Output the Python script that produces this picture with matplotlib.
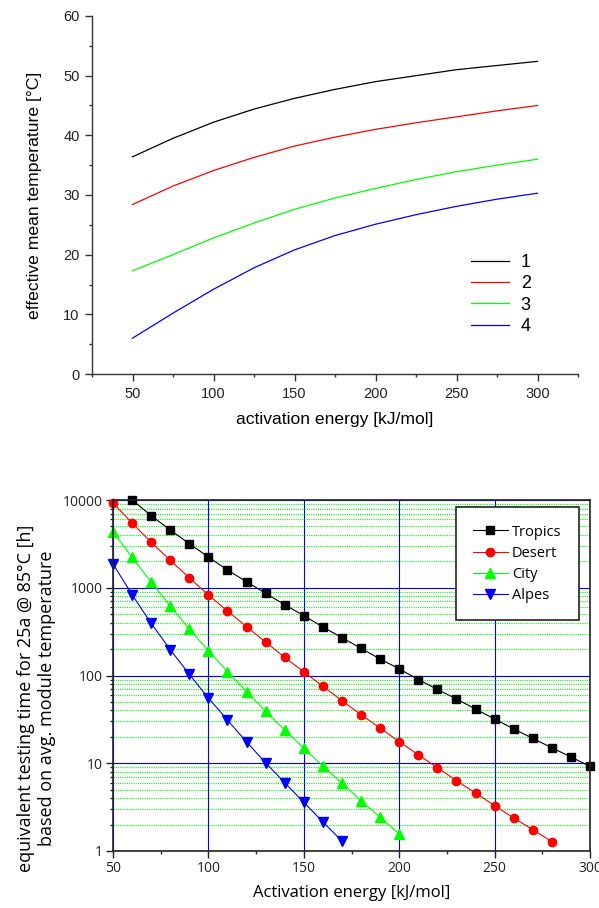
import matplotlib
matplotlib.use("Agg")
import matplotlib.pyplot as plt
from matplotlib.ticker import MultipleLocator, LogLocator, NullFormatter, FixedLocator

# --- top chart: effective mean temperature vs activation energy
ea_top = [50, 75, 100, 125, 150, 175, 200, 225, 250, 275, 300]
temp_1 = [36.4, 39.5, 42.2, 44.4, 46.2, 47.7, 49.0, 50.0, 51.0, 51.7, 52.4]
temp_2 = [28.4, 31.5, 34.1, 36.3, 38.2, 39.7, 41.0, 42.1, 43.1, 44.1, 45.0]
temp_3 = [17.3, 20.0, 22.8, 25.3, 27.6, 29.5, 31.1, 32.6, 33.9, 35.0, 36.0]
temp_4 = [6.0, 10.2, 14.2, 17.8, 20.8, 23.2, 25.1, 26.7, 28.1, 29.3, 30.3]
top_labels = ["1", "2", "3", "4"]
top_colors = ["black", "red", "#00ff00", "blue"]

# --- bottom chart: equivalent testing time
ea_tropics = list(range(60, 301, 10))
tropics = [10000, 6630, 4550, 3180, 2240, 1590, 1170, 864, 641, 481, 357, 270,
           204, 154, 119, 90, 69.5, 54, 41.5, 31.9, 24.6, 19.2, 15.0, 11.8, 9.2]
ea_desert = list(range(50, 281, 10))
desert = [9250, 5470, 3300, 2050, 1300, 826, 543, 360, 241, 161, 110, 75.3,
          51.7, 35.8, 25.2, 17.6, 12.5, 8.9, 6.34, 4.58, 3.29, 2.38, 1.75, 1.28]
ea_city = list(range(50, 201, 10))
city = [4360, 2220, 1160, 620, 339, 192, 111, 65.5, 39.1, 23.9, 14.8, 9.3,
        5.9, 3.75, 2.42, 1.56]
ea_alpes = list(range(50, 171, 10))
alpes = [1870, 834, 393, 197, 103, 55.4, 31.1, 17.5, 10.1, 6.0, 3.59, 2.14, 1.30]

fig = plt.figure(figsize=(5.99, 9.08), dpi=100)

# ---------------- top ----------------
top_font = "Liberation Sans"
ax1 = fig.add_axes([92 / 599, 1 - 374 / 908, 486 / 599, 358 / 908])
for ys, lab, col in zip([temp_1, temp_2, temp_3, temp_4], top_labels, top_colors):
    ax1.plot(ea_top, ys, color=col, lw=0.9, label=lab)
ax1.set_xlim(25, 325)
ax1.set_ylim(0, 60)
ax1.xaxis.set_major_locator(FixedLocator([50, 100, 150, 200, 250, 300]))
ax1.xaxis.set_minor_locator(FixedLocator([25, 75, 125, 175, 225, 275, 325]))
ax1.yaxis.set_major_locator(MultipleLocator(10))
ax1.yaxis.set_minor_locator(MultipleLocator(5))
for s in ["top", "right"]:
    ax1.spines[s].set_visible(False)
for s in ["left", "bottom"]:
    ax1.spines[s].set_linewidth(1.0)
    ax1.spines[s].set_color("#333333")
ax1.tick_params(which="major", direction="out", length=5, width=1.0, pad=4,
                labelsize=10.5, colors="#333333", labelcolor="#222222")
ax1.tick_params(which="minor", direction="out", length=2.5, width=1.0, colors="#333333")
for t in ax1.get_xticklabels() + ax1.get_yticklabels():
    t.set_family(top_font)
ax1.set_xlabel("activation energy [kJ/mol]", fontsize=12.6, family=top_font, labelpad=8)
ax1.set_ylabel("effective mean temperature [°C]", fontsize=12.6, family=top_font, labelpad=15)
ax1.legend(loc="upper left", bbox_to_anchor=(462 / 599, 1 - 245 / 908),
           bbox_transform=fig.transFigure, frameon=False,
           prop={"family": top_font, "size": 13}, handlelength=2.1,
           handletextpad=0.65, labelspacing=0.24, borderpad=0)

# ---------------- bottom ----------------
bot_font = "Open Sans"
ax2 = fig.add_axes([113 / 599, 1 - 851 / 908, 477 / 599, 351 / 908])
ax2.set_yscale("log")
ax2.set_xlim(50, 300)
ax2.set_ylim(1, 10000)

ax2.yaxis.set_major_locator(LogLocator(base=10, numticks=10))
ax2.yaxis.set_minor_locator(LogLocator(base=10, subs=range(2, 10), numticks=20))
ax2.yaxis.set_minor_formatter(NullFormatter())
ax2.yaxis.set_major_formatter(plt.FuncFormatter(lambda v, p: f"{int(round(v))}"))
ax2.xaxis.set_major_locator(MultipleLocator(50))
ax2.xaxis.set_minor_locator(MultipleLocator(25))

ax2.grid(True, which="minor", axis="y", color="#00ff00", ls=(0, (1, 1)), lw=0.8)
ax2.grid(True, which="major", axis="both", color="blue", ls="-", lw=0.8)
ax2.set_axisbelow(True)

series = [
    (ea_tropics, tropics, "black", "s", 5.5, "Tropics"),
    (ea_desert, desert, "red", "o", 6, "Desert"),
    (ea_city, city, "#00ff00", "^", 6.5, "City"),
    (ea_alpes, alpes, "blue", "v", 6.5, "Alpes"),
]
for xs, ys, col, mk, ms, lab in series:
    ax2.plot(xs, ys, color=col, lw=0.8, marker=mk, ms=ms, mec=col, mfc=col,
             label=lab, clip_on=False, zorder=3)

for s in ax2.spines.values():
    s.set_linewidth(1.2)
    s.set_color("#222222")
    s.set_zorder(4)
ax2.tick_params(which="major", direction="out", length=5, width=1.0, pad=2.5,
                labelsize=10, colors="#222222")
ax2.tick_params(which="minor", direction="out", length=2.5, width=1.0, colors="#222222")
for t in ax2.get_xticklabels() + ax2.get_yticklabels():
    t.set_family(bot_font)
ax2.set_xlabel("Activation energy [kJ/mol]", fontsize=12, family=bot_font, labelpad=6)
ax2.set_ylabel("equivalent testing time for 25a @ 85°C [h]\nbased on avg. module temperature",
               fontsize=13, family=bot_font, linespacing=1.2)
ax2.yaxis.set_label_coords(-0.12, 0.436)

leg = ax2.legend(loc="upper right", bbox_to_anchor=(579 / 599, 1 - 507 / 908),
                 bbox_transform=fig.transFigure, frameon=True, fancybox=False,
                 prop={"family": bot_font, "size": 10.5}, handlelength=2.35,
                 handletextpad=0.3, labelspacing=0.42, borderpad=1.2,
                 borderaxespad=0)
leg.get_frame().set_edgecolor("#222222")
leg.get_frame().set_linewidth(1.2)
leg.get_frame().set_alpha(1)

fig.savefig("out.png", dpi=100)
